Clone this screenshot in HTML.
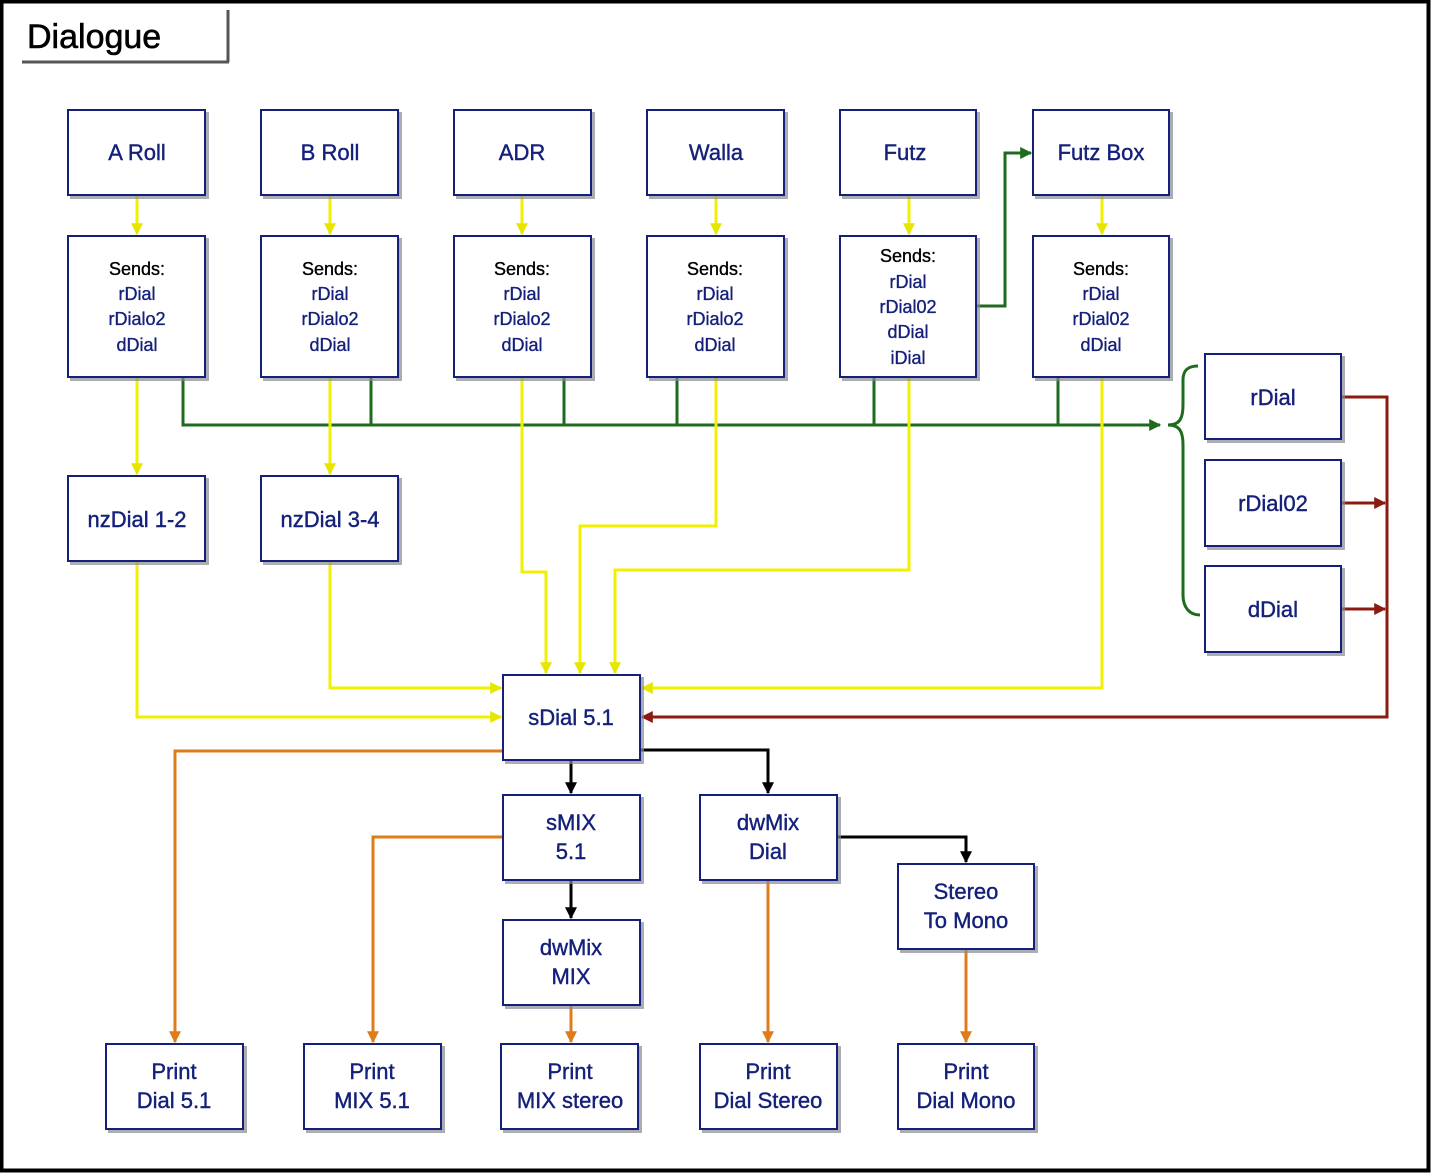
<!DOCTYPE html>
<html><head><meta charset="utf-8"><style>
html,body{margin:0;padding:0;background:#fff;}
svg{display:block;}
text{font-family:"Liberation Sans",sans-serif;}
</style></head><body>
<svg width="1431" height="1174" viewBox="0 0 1431 1174" xmlns="http://www.w3.org/2000/svg">
<defs>
<marker id="ay" viewBox="0 0 10 10" refX="9" refY="5" markerWidth="4" markerHeight="4" orient="auto"><path d="M0,0L10,5L0,10z" fill="#e6e600"/></marker>
<marker id="ag" viewBox="0 0 10 10" refX="9" refY="5" markerWidth="4" markerHeight="4" orient="auto"><path d="M0,0L10,5L0,10z" fill="#1e6b1e"/></marker>
<marker id="ar" viewBox="0 0 10 10" refX="9" refY="5" markerWidth="4" markerHeight="4" orient="auto"><path d="M0,0L10,5L0,10z" fill="#8b1a10"/></marker>
<marker id="ak" viewBox="0 0 10 10" refX="9" refY="5" markerWidth="4" markerHeight="4" orient="auto"><path d="M0,0L10,5L0,10z" fill="#000"/></marker>
<marker id="ao" viewBox="0 0 10 10" refX="9" refY="5" markerWidth="4" markerHeight="4" orient="auto"><path d="M0,0L10,5L0,10z" fill="#e07b1a"/></marker>
</defs>
<rect x="1.5" y="1.5" width="1427" height="1169" fill="#fff" stroke="#000" stroke-width="4"/>
<line x1="22" y1="62" x2="229" y2="62" stroke="#555" stroke-width="3"/>
<line x1="228" y1="10" x2="228" y2="62" stroke="#555" stroke-width="3"/>
<text x="27" y="48" font-size="34" fill="#000" stroke="#000" stroke-width="0.6">Dialogue</text>

<g fill="none" stroke-width="3" stroke-linejoin="miter">
<g stroke="#1e6b1e">
<path d="M183,377V425H1160" marker-end="url(#ag)"/>
<path d="M371,377V425M564,377V425M677,377V425M874,377V425M1058,377V425"/>
<path d="M976,306H1005V153H1031" marker-end="url(#ag)"/>
<path d="M1168,425C1180,425 1183,418 1183,405V380C1183,370 1188,366 1198,366"/>
<path d="M1168,425C1180,425 1183,432 1183,445V595C1183,608 1190,615 1200,615"/>
</g>
<g stroke="#f0f000">
<path d="M137,195V234" marker-end="url(#ay)"/><path d="M330,195V234" marker-end="url(#ay)"/>
<path d="M522,195V234" marker-end="url(#ay)"/><path d="M716,195V234" marker-end="url(#ay)"/>
<path d="M909,195V234" marker-end="url(#ay)"/><path d="M1102,195V234" marker-end="url(#ay)"/>
<path d="M137,377V474" marker-end="url(#ay)"/>
<path d="M330,377V474" marker-end="url(#ay)"/>
<path d="M522,377V572H546V673" marker-end="url(#ay)"/>
<path d="M716,377V526H580V673" marker-end="url(#ay)"/>
<path d="M909,377V570H615V673" marker-end="url(#ay)"/>
<path d="M1102,377V688H642" marker-end="url(#ay)"/>
<path d="M137,561V717H501" marker-end="url(#ay)"/>
<path d="M330,561V688H501" marker-end="url(#ay)"/>
</g>
<g stroke="#8b1a10">
<path d="M1341,397H1387V717H642" marker-end="url(#ar)"/>
<path d="M1341,503H1385" marker-end="url(#ar)"/>
<path d="M1341,609H1385" marker-end="url(#ar)"/>
</g>
<g stroke="#000">
<path d="M571,760V793" marker-end="url(#ak)"/>
<path d="M640,750H768V793" marker-end="url(#ak)"/>
<path d="M571,880V918" marker-end="url(#ak)"/>
<path d="M837,837H966V862" marker-end="url(#ak)"/>
</g>
<g stroke="#e07b1a">
<path d="M503,751H175V1042" marker-end="url(#ao)"/>
<path d="M503,837H373V1042" marker-end="url(#ao)"/>
<path d="M571,1005V1042" marker-end="url(#ao)"/>
<path d="M768,880V1042" marker-end="url(#ao)"/>
<path d="M966,949V1042" marker-end="url(#ao)"/>
</g>
</g>

<defs>
<g id="boxes">
<rect x="68" y="110" width="137" height="85"/><rect x="261" y="110" width="137" height="85"/>
<rect x="454" y="110" width="137" height="85"/><rect x="647" y="110" width="137" height="85"/>
<rect x="840" y="110" width="136" height="85"/><rect x="1033" y="110" width="136" height="85"/>
<rect x="68" y="236" width="137" height="141"/><rect x="261" y="236" width="137" height="141"/>
<rect x="454" y="236" width="137" height="141"/><rect x="647" y="236" width="137" height="141"/>
<rect x="840" y="236" width="136" height="141"/><rect x="1033" y="236" width="136" height="141"/>
<rect x="68" y="476" width="137" height="85"/><rect x="261" y="476" width="137" height="85"/>
<rect x="1205" y="354" width="136" height="85"/><rect x="1205" y="460" width="136" height="86"/><rect x="1205" y="566" width="136" height="86"/>
<rect x="503" y="675" width="137" height="85"/>
<rect x="503" y="795" width="137" height="85"/><rect x="700" y="795" width="137" height="85"/>
<rect x="898" y="864" width="136" height="85"/><rect x="503" y="920" width="137" height="85"/>
<rect x="106" y="1044" width="137" height="85"/><rect x="304" y="1044" width="137" height="85"/>
<rect x="501" y="1044" width="137" height="85"/><rect x="700" y="1044" width="137" height="85"/>
<rect x="898" y="1044" width="136" height="85"/>
</g>
</defs>
<use href="#boxes" transform="translate(3,3)" fill="#8a8a95" stroke="#8a8a95" stroke-width="2" opacity="0.7"/>
<use href="#boxes" fill="#fff" stroke="#14207a" stroke-width="2"/>

<g font-size="22" fill="#14207a" stroke="#14207a" stroke-width="0.4" text-anchor="middle">
<text x="137" y="160">A Roll</text><text x="330" y="160">B Roll</text>
<text x="522" y="160">ADR</text><text x="716" y="160">Walla</text>
<text x="905" y="160">Futz</text><text x="1101" y="160">Futz Box</text>
<text x="137" y="527">nzDial 1-2</text><text x="330" y="527">nzDial 3-4</text>
<text x="1273" y="405">rDial</text><text x="1273" y="511">rDial02</text><text x="1273" y="617">dDial</text>
<text x="571" y="725">sDial 5.1</text>
<text x="571" y="830">sMIX</text><text x="571" y="859">5.1</text>
<text x="768" y="830">dwMix</text><text x="768" y="859">Dial</text>
<text x="966" y="899">Stereo</text><text x="966" y="928">To Mono</text>
<text x="571" y="955">dwMix</text><text x="571" y="984">MIX</text>
<text x="174" y="1079">Print</text><text x="174" y="1108">Dial 5.1</text>
<text x="372" y="1079">Print</text><text x="372" y="1108">MIX 5.1</text>
<text x="570" y="1079">Print</text><text x="570" y="1108">MIX stereo</text>
<text x="768" y="1079">Print</text><text x="768" y="1108">Dial Stereo</text>
<text x="966" y="1079">Print</text><text x="966" y="1108">Dial Mono</text>
</g>
<g font-size="18" text-anchor="middle" fill="#14207a" stroke="#14207a" stroke-width="0.35">
<g transform="translate(137,0)"><text y="275" fill="#000" stroke="#000">Sends:</text><text y="300">rDial</text><text y="325">rDialo2</text><text y="351">dDial</text></g>
<g transform="translate(330,0)"><text y="275" fill="#000" stroke="#000">Sends:</text><text y="300">rDial</text><text y="325">rDialo2</text><text y="351">dDial</text></g>
<g transform="translate(522,0)"><text y="275" fill="#000" stroke="#000">Sends:</text><text y="300">rDial</text><text y="325">rDialo2</text><text y="351">dDial</text></g>
<g transform="translate(715,0)"><text y="275" fill="#000" stroke="#000">Sends:</text><text y="300">rDial</text><text y="325">rDialo2</text><text y="351">dDial</text></g>
<g transform="translate(908,0)"><text y="262" fill="#000" stroke="#000">Sends:</text><text y="288">rDial</text><text y="313">rDial02</text><text y="338">dDial</text><text y="364">iDial</text></g>
<g transform="translate(1101,0)"><text y="275" fill="#000" stroke="#000">Sends:</text><text y="300">rDial</text><text y="325">rDial02</text><text y="351">dDial</text></g>
</g>
</svg>
</body></html>
